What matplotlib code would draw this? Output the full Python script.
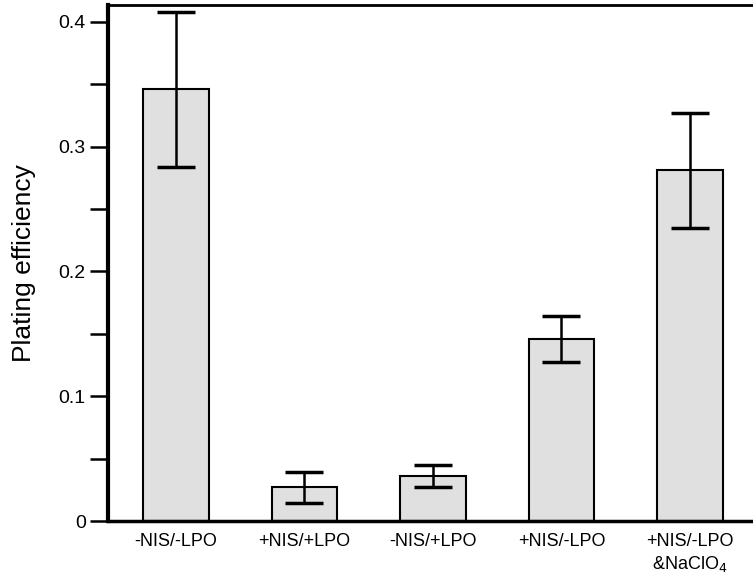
import numpy as np
import matplotlib.pyplot as plt
from matplotlib.ticker import MultipleLocator

labels = ['-NIS/-LPO', '+NIS/+LPO', '-NIS/+LPO', '+NIS/-LPO', '+NIS/-LPO\n&NaClO$_4$']
values = [0.346, 0.027, 0.036, 0.146, 0.281]
errors = [0.062, 0.0125, 0.0085, 0.0185, 0.046]

plt.rcParams['font.family'] = ['Liberation Sans', 'DejaVu Sans']

fig = plt.figure(figsize=(7.53, 5.77), dpi=100)
W, H = 753, 577
ax = fig.add_axes([108 / W, (H - 521) / H, (760 - 108) / W, (521 - 5) / H])

x = np.arange(len(values))
ax.bar(x, values, width=0.51, color='#e0e0e0', edgecolor='black', linewidth=1.5, zorder=2)
ax.errorbar(x, values, yerr=errors, fmt='none', ecolor='black', elinewidth=1.8,
            capsize=14, capthick=2.5, zorder=3)

ax.set_xlim(-0.529, 4.545)
ax.set_ylim(0, 0.4136)
ax.yaxis.set_minor_locator(MultipleLocator(0.05))
ax.set_yticks([0, 0.1, 0.2, 0.3, 0.4])
ax.set_yticklabels(['0', '0.1', '0.2', '0.3', '0.4'], fontsize=14)
ax.tick_params(axis='y', which='both', direction='out', length=13, width=1.8, pad=3)
ax.set_xticks(x)
ax.set_xticklabels(labels, fontsize=13)
ax.tick_params(axis='x', length=0, pad=9)

ax.spines['left'].set_linewidth(3)
ax.spines['top'].set_linewidth(2)
ax.spines['bottom'].set_linewidth(2.5)
ax.spines['right'].set_visible(False)

ax.set_ylabel('Plating efficiency', fontsize=19, labelpad=16)

fig.savefig('out.png', dpi=100)
